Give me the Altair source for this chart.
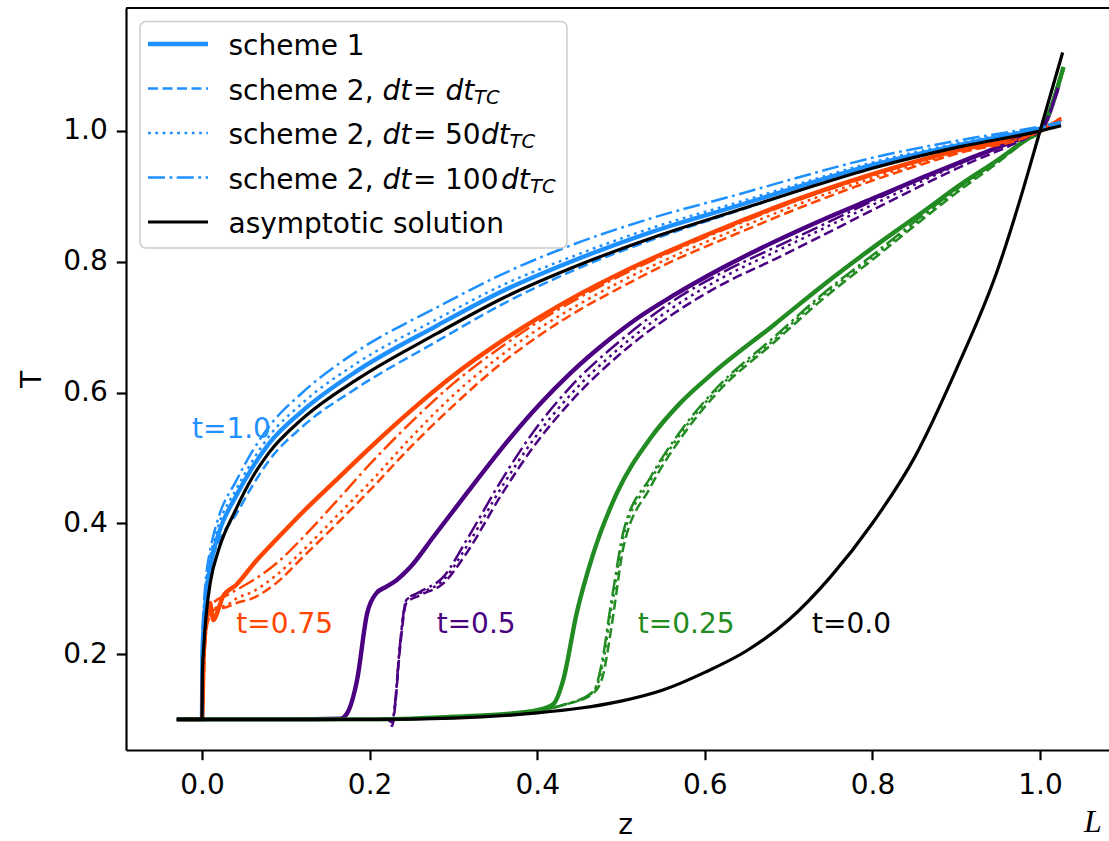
import altair as alt
import pandas as pd

# ---------------- data ----------------
# t = 1.0 (blue) and the t = 1.0 asymptotic solution
blue_z = [-0.03, 0.0, 0.0005, 0.002, 0.005, 0.01, 0.02, 0.04, 0.06, 0.08, 0.12, 0.185,
          0.28, 0.36, 0.44, 0.54, 0.64, 0.72, 0.8, 0.905, 1.0, 1.025]
asym1_T = [0.1, 0.1, 0.17, 0.21, 0.26, 0.31, 0.36, 0.42, 0.47, 0.508, 0.56, 0.62,
           0.69, 0.745, 0.79, 0.838, 0.879, 0.912, 0.943, 0.976, 1.0, 1.008]
blue_s1_T = [0.1, 0.1, 0.2, 0.24, 0.29, 0.335, 0.385, 0.44, 0.485, 0.522, 0.572, 0.633,
             0.702, 0.756, 0.8, 0.847, 0.886, 0.918, 0.948, 0.979, 1.003, 1.01]
blue_dash_T = [0.1, 0.1, 0.21, 0.25, 0.3, 0.335, 0.372, 0.412, 0.457, 0.496, 0.548, 0.607,
               0.678, 0.736, 0.785, 0.835, 0.878, 0.912, 0.944, 0.978, 1.003, 1.01]
blue_dot_T = [0.1, 0.1, 0.22, 0.26, 0.31, 0.35, 0.398, 0.45, 0.495, 0.533, 0.584, 0.645,
              0.712, 0.765, 0.807, 0.853, 0.891, 0.922, 0.952, 0.982, 1.005, 1.012]
blue_dashdot_T = [0.1, 0.1, 0.23, 0.27, 0.32, 0.36, 0.41, 0.463, 0.51, 0.548, 0.6, 0.663,
                  0.73, 0.782, 0.825, 0.868, 0.903, 0.932, 0.959, 0.986, 1.007, 1.014]

# t = 0.75 (orange-red)
orange_s1_z = [-0.03, 0.0, 0.002, 0.005, 0.0095, 0.0135, 0.02, 0.025, 0.041, 0.065, 0.09, 0.121,
               0.16, 0.2, 0.25, 0.3, 0.35, 0.4, 0.45, 0.5, 0.56, 0.642, 0.72, 0.8, 0.9, 1.0, 1.025]
orange_s1_T = [0.1, 0.1, 0.2, 0.25, 0.278, 0.252, 0.27, 0.288, 0.306, 0.343, 0.377, 0.418,
               0.466, 0.515, 0.573, 0.626, 0.672, 0.713, 0.75, 0.783, 0.818, 0.862, 0.9, 0.934, 0.97, 1.0, 1.018]
orange_s2_z = [-0.03, 0.0, 0.003, 0.007, 0.015, 0.03, 0.041, 0.06, 0.09, 0.121, 0.16, 0.2,
               0.25, 0.3, 0.35, 0.4, 0.45, 0.5, 0.56, 0.642, 0.72, 0.8, 0.9, 1.0, 1.025]
orange_dashdot_T = [0.1, 0.1, 0.2, 0.255, 0.28, 0.29, 0.298, 0.312, 0.34, 0.379, 0.433, 0.49,
                    0.555, 0.614, 0.663, 0.707, 0.745, 0.779, 0.815, 0.859, 0.898, 0.932, 0.969, 1.0, 1.02]
orange_dot_T = [0.1, 0.1, 0.2, 0.25, 0.27, 0.275, 0.285, 0.295, 0.322, 0.359, 0.41, 0.462,
                0.532, 0.596, 0.65, 0.696, 0.735, 0.77, 0.807, 0.852, 0.892, 0.928, 0.967, 1.0, 1.02]
orange_dash_T = [0.1, 0.1, 0.2, 0.25, 0.268, 0.272, 0.278, 0.285, 0.31, 0.349, 0.398, 0.45,
                 0.518, 0.58, 0.637, 0.685, 0.726, 0.761, 0.8, 0.845, 0.886, 0.924, 0.965, 1.0, 1.02]

# t = 0.5 (indigo)
purple_s1_z = [-0.03, 0.1, 0.165, 0.173, 0.185, 0.197, 0.208, 0.22, 0.232, 0.25, 0.276, 0.316,
               0.356, 0.403, 0.44, 0.483, 0.52, 0.562, 0.62, 0.682, 0.74, 0.801, 0.86, 0.92,
               0.96, 0.985, 1.0, 1.022]
purple_s1_T = [0.1, 0.1, 0.101, 0.109, 0.16, 0.262, 0.293, 0.303, 0.313, 0.335, 0.379, 0.446,
               0.512, 0.582, 0.63, 0.678, 0.714, 0.748, 0.79, 0.83, 0.864, 0.897, 0.929, 0.96,
               0.98, 0.9925, 1.0, 1.07]
purple_s2_z = [-0.03, 0.1, 0.2, 0.222, 0.227, 0.23, 0.236, 0.244, 0.26, 0.288, 0.316, 0.356,
               0.395, 0.44, 0.5, 0.562, 0.62, 0.682, 0.74, 0.8, 0.905, 0.985, 1.0, 1.022]
purple_dashdot_T = [0.1, 0.1, 0.1, 0.1, 0.095, 0.12, 0.211, 0.283, 0.295, 0.318, 0.375, 0.463,
                    0.539, 0.609, 0.68, 0.74, 0.783, 0.821, 0.856, 0.893, 0.953, 0.993, 1.0, 1.07]
purple_dot_T = [0.1, 0.1, 0.1, 0.1, 0.093, 0.12, 0.211, 0.283, 0.293, 0.313, 0.365, 0.452,
                0.527, 0.597, 0.67, 0.73, 0.775, 0.814, 0.85, 0.887, 0.95, 0.992, 1.0, 1.07]
purple_dash_T = [0.1, 0.1, 0.1, 0.1, 0.09, 0.115, 0.205, 0.278, 0.29, 0.308, 0.355, 0.441,
                 0.516, 0.586, 0.66, 0.72, 0.765, 0.803, 0.84, 0.879, 0.945, 0.99, 1.0, 1.065]

# t = 0.25 (forest green)
green_s1_z = [-0.03, 0.2, 0.3, 0.36, 0.4, 0.419, 0.431, 0.447, 0.467, 0.495, 0.535, 0.57,
              0.61, 0.682, 0.74, 0.801, 0.86, 0.905, 0.95, 0.985, 1.0, 1.028]
green_s1_T = [0.1, 0.1, 0.104, 0.108, 0.114, 0.123, 0.16, 0.262, 0.354, 0.446, 0.53, 0.583,
              0.63, 0.703, 0.763, 0.822, 0.876, 0.918, 0.956, 0.988, 1.0, 1.098]
green_s2_z = [-0.03, 0.2, 0.3, 0.36, 0.4, 0.431, 0.467, 0.479, 0.486, 0.491, 0.503, 0.535,
              0.574, 0.615, 0.682, 0.74, 0.8, 0.905, 0.95, 0.985, 1.0, 1.028]
green_dash_T = [0.1, 0.1, 0.104, 0.108, 0.113, 0.122, 0.14, 0.17, 0.22, 0.262, 0.364, 0.455,
                0.535, 0.6, 0.676, 0.742, 0.803, 0.91, 0.952, 0.987, 1.0, 1.092]
green_dot_T = [0.1, 0.1, 0.104, 0.108, 0.113, 0.122, 0.142, 0.19, 0.25, 0.29, 0.38, 0.465,
               0.542, 0.605, 0.68, 0.747, 0.807, 0.913, 0.954, 0.988, 1.0, 1.095]
green_dashdot_T = [0.1, 0.1, 0.104, 0.108, 0.113, 0.122, 0.143, 0.2, 0.26, 0.3, 0.388, 0.47,
                   0.546, 0.608, 0.684, 0.75, 0.81, 0.915, 0.955, 0.988, 1.0, 1.095]

# t = 0.0 asymptotic solution (black)
asym0_z = [-0.03, 0.2, 0.3, 0.4, 0.45, 0.5, 0.55, 0.6, 0.65, 0.7, 0.75, 0.8, 0.85, 0.9,
           0.95, 0.975, 1.0, 1.027]
asym0_T = [0.1, 0.1, 0.102, 0.11, 0.117, 0.128, 0.145, 0.172, 0.205, 0.252, 0.318, 0.4, 0.5,
           0.635, 0.79, 0.89, 1.0, 1.12]

# curve annotations
label_text = ["t=1.0", "t=0.75", "t=0.5", "t=0.25", "t=0.0"]
label_key = ["1.0", "0.75", "0.5", "0.25", "0.0"]
label_z = [-0.012, 0.041, 0.28, 0.52, 0.728]
label_T = [0.543, 0.244, 0.244, 0.244, 0.244]

t_keys = ["1.0", "0.75", "0.5", "0.25", "0.0"]
t_colors = ["#1e90ff", "#ff4500", "#4b0082", "#228b22", "#000000"]

x_ticks = [0.0, 0.2, 0.4, 0.6, 0.8, 1.0]
y_ticks = [0.2, 0.4, 0.6, 0.8, 1.0]

# ---------------- build table ----------------
series = [
    ("1.0", "s1", blue_z, blue_s1_T),
    ("0.75", "s1", orange_s1_z, orange_s1_T),
    ("0.5", "s1", purple_s1_z, purple_s1_T),
    ("0.25", "s1", green_s1_z, green_s1_T),
    ("0.25", "dash", green_s2_z, green_dash_T),
    ("0.25", "dot", green_s2_z, green_dot_T),
    ("0.25", "dashdot", green_s2_z, green_dashdot_T),
    ("0.5", "dash", purple_s2_z, purple_dash_T),
    ("0.5", "dot", purple_s2_z, purple_dot_T),
    ("0.5", "dashdot", purple_s2_z, purple_dashdot_T),
    ("0.75", "dash", orange_s2_z, orange_dash_T),
    ("0.75", "dot", orange_s2_z, orange_dot_T),
    ("0.75", "dashdot", orange_s2_z, orange_dashdot_T),
    ("1.0", "dash", blue_z, blue_dash_T),
    ("1.0", "dot", blue_z, blue_dot_T),
    ("1.0", "dashdot", blue_z, blue_dashdot_T),
    ("0.0", "asym", asym0_z, asym0_T),
    ("1.0", "asym", blue_z, asym1_T),
]
rows = []
for k, (t, style, zs, Ts) in enumerate(series):
    for i, (z, T) in enumerate(zip(zs, Ts)):
        rows.append({"curve": f"{k:02d}-{t}-{style}", "t": t, "style": style,
                     "z": z, "T": T, "i": i})
df = pd.DataFrame(rows)
ann = pd.DataFrame({"text": label_text, "t": label_key, "z": label_z, "T": label_T})

# ---------------- layout ----------------
FONT = "DejaVu Sans"
PL, PT = 126, 8          # plot origin in page pixels
W, H = 983, 742
X_DOM = [-0.0907, 1.0823]
Y_DOM = [0.0532, 1.1881]

xs = alt.Scale(domain=X_DOM, nice=False, zero=False)
ys = alt.Scale(domain=Y_DOM, nice=False, zero=False)
cs = alt.Scale(domain=t_keys, range=t_colors)

x_enc = alt.X("z:Q", scale=xs, axis=alt.Axis(values=x_ticks, format=".1f", title="z",
                                             labelPadding=12, titlePadding=12,
                                             titleX=625 - PL))
y_enc = alt.Y("T:Q", scale=ys, axis=alt.Axis(values=y_ticks, format=".1f", title="T",
                                             labelPadding=9, titlePadding=16))

base = alt.Chart(df).encode(x=x_enc, y=y_enc, detail="curve:N", order="i:Q")

s1 = base.transform_filter("datum.style == 's1'").mark_line(
    strokeWidth=4.4, clip=True, strokeJoin="round", interpolate="monotone").encode(
    color=alt.Color("t:N", scale=cs, legend=None))

s2 = base.transform_filter(
    "datum.style == 'dash' || datum.style == 'dot' || datum.style == 'dashdot'").mark_line(
    strokeWidth=2.5, clip=True, strokeCap="butt", interpolate="monotone").encode(
    color=alt.Color("t:N", scale=cs, legend=None),
    strokeDash=alt.StrokeDash("style:N", scale=alt.Scale(
        domain=["dash", "dot", "dashdot"],
        range=[[10, 4.5], [2.8, 4.5], [17, 4.5, 2.8, 4.5]]), legend=None))

asym = base.transform_filter("datum.style == 'asym'").mark_line(
    strokeWidth=3.2, clip=True, color="black", interpolate="monotone")

labels = alt.Chart(ann).mark_text(font=FONT, fontSize=28, align="left",
                                  baseline="middle").encode(
    x=alt.X("z:Q", scale=xs), y=alt.Y("T:Q", scale=ys),
    text="text:N", color=alt.Color("t:N", scale=cs, legend=None))

one = pd.DataFrame({"a": [0]})

top_frame = alt.Chart(one).mark_rule(color="black", strokeWidth=2.2).encode(
    x=alt.value(0), x2=alt.value(W), y=alt.value(0))

# ---------------- legend (drawn by hand for the math labels) ----------------
def px(ax):
    return ax - PL

def py(ay):
    return ay - PT

legend_box = alt.Chart(one).mark_rect(
    cornerRadius=6, fill="white", fillOpacity=0.8, stroke="#cccccc",
    strokeWidth=1.5).encode(
    x=alt.value(px(140)), x2=alt.value(px(567)),
    y=alt.value(py(21.5)), y2=alt.value(py(248)))

line_y = [44, 88.5, 133, 177.5, 222]
base_y = [55, 99.5, 144, 188.5, 233]
sample_specs = [
    ("#1e90ff", 4.4, None),
    ("#1e90ff", 2.5, [10, 4.5]),
    ("#1e90ff", 2.5, [2.8, 4.5]),
    ("#1e90ff", 2.5, [17, 4.5, 2.8, 4.5]),
    ("black", 3.2, None),
]
legend_layers = [legend_box]
for (col, sw, dash), ly in zip(sample_specs, line_y):
    kw = dict(color=col, strokeWidth=sw, strokeCap="butt")
    if dash is not None:
        kw["strokeDash"] = dash
    legend_layers.append(alt.Chart(one).mark_rule(**kw).encode(
        x=alt.value(px(148)), x2=alt.value(px(208)), y=alt.value(py(ly))))


def txt(s, ax, ay, size=28, italic=False):
    kw = dict(font=FONT, fontSize=size, align="left", baseline="alphabetic",
              color="black")
    if italic:
        kw["fontStyle"] = "italic"
    return alt.Chart(one).mark_text(text=s, **kw).encode(
        x=alt.value(px(ax)), y=alt.value(py(ay)))


SUB = 19.5
EQ_X = 413
legend_layers += [
    txt("scheme 1", 228.5, base_y[0]),
    txt("scheme 2,", 228.5, base_y[1]),
    txt("dt", 382.5, base_y[1], italic=True),
    txt("=", EQ_X, base_y[1]),
    txt("dt", 445.5, base_y[1], italic=True),
    txt("TC", 474, base_y[1] + 4, size=SUB, italic=True),
    txt("scheme 2,", 228.5, base_y[2]),
    txt("dt", 382.5, base_y[2], italic=True),
    txt("=", EQ_X, base_y[2]),
    txt("50", 445, base_y[2]),
    txt("dt", 481, base_y[2], italic=True),
    txt("TC", 509.5, base_y[2] + 4, size=SUB, italic=True),
    txt("scheme 2,", 228.5, base_y[3]),
    txt("dt", 382.5, base_y[3], italic=True),
    txt("=", EQ_X, base_y[3]),
    txt("100", 445, base_y[3]),
    txt("dt", 501, base_y[3], italic=True),
    txt("TC", 530, base_y[3] + 4, size=SUB, italic=True),
    txt("asymptotic solution", 228.5, base_y[4]),
]

stray_L = alt.Chart(one).mark_text(
    text="L", font="Liberation Serif", fontStyle="italic", fontSize=32,
    align="left", baseline="alphabetic", color="black").encode(
    x=alt.value(px(1084)), y=alt.value(py(832)))

chart = alt.layer(s1, s2, asym, labels, top_frame, *legend_layers, stray_L).properties(
    width=W, height=H,
    padding={"left": PL, "top": PT, "right": 0, "bottom": 841 - PT - H},
    autosize=alt.AutoSizeParams(type="none"),
    background="white",
).configure_view(stroke=None).configure_axis(
    labelFont=FONT, labelFontSize=28, labelColor="black",
    titleFont=FONT, titleFontSize=28, titleColor="black", titleFontWeight="normal",
    domainColor="black", domainWidth=2.2, tickColor="black", tickWidth=2.2,
    tickSize=9.7, grid=False,
)

chart.save("out.html", embed_options={"renderer": "svg", "actions": False})
